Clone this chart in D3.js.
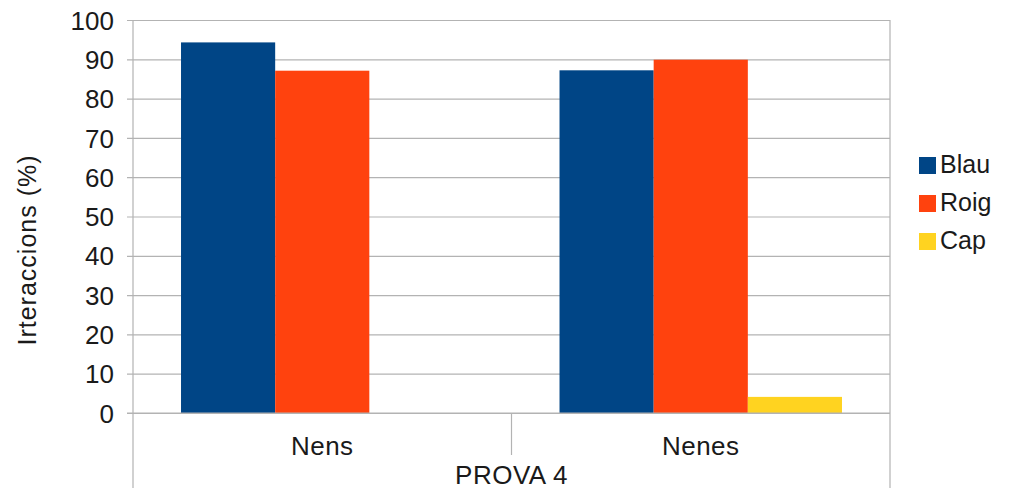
<!DOCTYPE html>
<html>
<head>
<meta charset="utf-8">
<script src="https://cdn.jsdelivr.net/npm/d3@7"></script>
<style>
  html, body { margin: 0; padding: 0; background: #fff; }
  svg { display: block; }
  text { font-family: "Liberation Sans", Arial, sans-serif; fill: #1a1a1a; }
</style>
</head>
<body>
<svg id="chart" width="1009" height="490"></svg>
<script>
const categories = ["Nens", "Nenes"];
const seriesNames = ["Blau", "Roig", "Cap"];
const blauValues = [94.3, 87.2];
const roigValues = [87.1, 89.9];
const capValues = [0, 4.1];
const yTicks = [0, 10, 20, 30, 40, 50, 60, 70, 80, 90, 100];
const axisTitle = "Irteraccions (%)";
const groupTitle = "PROVA 4";
const colors = ["#004586", "#ff420e", "#ffd320"];

(function () {
const seriesValues = [blauValues, roigValues, capValues];
const data = categories.map((c, i) => ({
  cat: c,
  vals: seriesNames.map((s, j) => ({ s, v: seriesValues[j][i], color: colors[j] }))
}));

const svg = d3.select("#chart");
const mLeft = 133, mRight = 890, mTop = 20, mBottom = 413;
const gridColor = "#b3b3b3";

const x = d3.scaleBand().domain(categories).range([mLeft, mRight]).padding(0);
const xs = d3.scaleBand().domain(seriesNames).range([0, x.bandwidth()]).paddingInner(0).paddingOuter(0.51);
const y = d3.scaleLinear().domain([0, 100]).range([mBottom, mTop]);

// grid + ticks
const yAxis = d3.axisLeft(y).tickValues(yTicks).tickSize(-(mRight - mLeft)).tickPadding(14).tickFormat(d3.format("d"));
const gy = svg.append("g").attr("transform", `translate(${mLeft},0)`).call(yAxis);
gy.select(".domain").remove();
gy.selectAll(".tick line").attr("stroke", gridColor).attr("stroke-width", 1.2).attr("x1", -6);
gy.selectAll(".tick text")
  .attr("font-size", 26).attr("font-family", "Liberation Sans, Arial, sans-serif")
  .attr("fill", "#1a1a1a").attr("x", -19).attr("dy", "0.35em");

// bars
const groups = svg.append("g").selectAll("g").data(data).join("g")
  .attr("transform", d => `translate(${x(d.cat)},0)`);
groups.selectAll("rect").data(d => d.vals).join("rect")
  .attr("x", d => xs(d.s))
  .attr("width", xs.bandwidth())
  .attr("y", d => y(d.v))
  .attr("height", d => y(0) - y(d.v))
  .attr("fill", d => d.color);

// x axis baseline redraw on top of bars
svg.append("line").attr("x1", mLeft - 6).attr("x2", mRight).attr("y1", y(0)).attr("y2", y(0))
  .attr("stroke", gridColor).attr("stroke-width", 1.2);

// vertical frame lines
const vlines = [
  { x: mLeft, y1: mTop, y2: 488 },
  { x: mRight, y1: mTop, y2: 488 },
  { x: x(categories[1]), y1: mBottom, y2: 455 }
];
svg.append("g").selectAll("line").data(vlines).join("line")
  .attr("x1", d => d.x).attr("x2", d => d.x)
  .attr("y1", d => d.y1).attr("y2", d => d.y2)
  .attr("stroke", gridColor).attr("stroke-width", 1.2);

// category labels
svg.append("g").selectAll("text").data(categories).join("text")
  .attr("x", d => x(d) + x.bandwidth() / 2)
  .attr("y", 455)
  .attr("text-anchor", "middle")
  .attr("font-size", 26)
  .attr("letter-spacing", 0.5)
  .text(d => d);

svg.append("text")
  .attr("x", (mLeft + mRight) / 2)
  .attr("y", 484)
  .attr("text-anchor", "middle")
  .attr("font-size", 26)
  .attr("letter-spacing", 0.5)
  .text(groupTitle);

// y title
svg.append("text")
  .attr("transform", `translate(36,250) rotate(-90)`)
  .attr("text-anchor", "middle")
  .attr("font-size", 25)
  .attr("letter-spacing", 1)
  .text(axisTitle);

// legend
const legend = svg.append("g").selectAll("g").data(seriesNames).join("g")
  .attr("transform", (d, i) => `translate(919,${164 + i * 38})`);
legend.append("rect").attr("x", 0).attr("y", -7).attr("width", 17).attr("height", 17)
  .attr("fill", (d, i) => colors[i]);
legend.append("text").attr("x", 21).attr("y", 0).attr("dy", "0.35em")
  .attr("font-size", 25).text(d => d);
})();
</script>
</body>
</html>
